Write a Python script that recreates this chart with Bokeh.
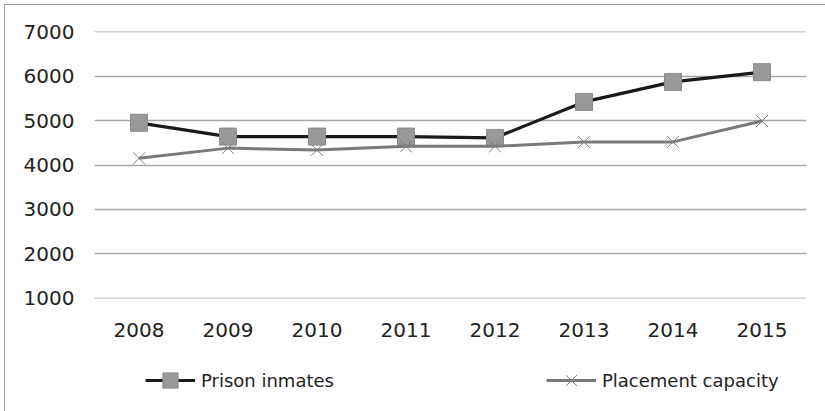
from bokeh.plotting import figure
from bokeh.layouts import column
from bokeh.models import FactorRange, Range1d, FixedTicker, Legend, LegendItem
from bokeh.embed import file_html
from bokeh.resources import INLINE

years = ["2008", "2009", "2010", "2011", "2012", "2013", "2014", "2015"]
prison_inmates = [4950, 4640, 4640, 4640, 4610, 5420, 5870, 6090]
placement_capacity = [4150, 4380, 4340, 4420, 4420, 4520, 4520, 4990]
y_ticks = [1000, 2000, 3000, 4000, 5000, 6000, 7000]

font = "DejaVu Sans"
ink = "#222222"
s1 = dict(line_color="#1a1a1a", line_width=3.2)
k1 = dict(marker="square", size=17, fill_color="#999999", line_color="#8a8a8a", line_width=1)
s2 = dict(line_color="#7a7a7a", line_width=3)
k2 = dict(marker="x", size=17, line_color="#7f7f7f", line_width=1)

p = figure(width=820, height=345, x_range=FactorRange(*years),
           y_range=Range1d(995, 7005), output_backend="svg",
           toolbar_location=None, min_border_left=89, min_border_right=19,
           min_border_top=26, min_border_bottom=52)
p.x_range.range_padding = 0
p.outline_line_color = None
p.border_fill_color = "white"

p.yaxis.ticker = FixedTicker(ticks=y_ticks)
p.yaxis.axis_line_color = None
p.yaxis.major_tick_line_color = None
p.yaxis.minor_tick_line_color = None
p.yaxis.major_label_text_font = font
p.yaxis.major_label_text_font_size = "20px"
p.yaxis.major_label_text_color = ink
p.yaxis.major_label_standoff = 14

p.xaxis.axis_line_color = None
p.xaxis.major_tick_line_color = None
p.xaxis.major_label_text_font = font
p.xaxis.major_label_text_font_size = "20px"
p.xaxis.major_label_text_color = ink
p.xaxis.major_label_standoff = 18

p.xgrid.grid_line_color = None
p.ygrid.grid_line_color = "#a6a6a6"
p.ygrid.grid_line_width = 1.5

p.line(years, prison_inmates, **s1)
p.scatter(years, prison_inmates, **k1)
p.line(years, placement_capacity, **s2)
p.scatter(years, placement_capacity, **k2)

# legend strip below the chart; its renderers carry the same data but lie
# outside this strip's ranges, so only their legend glyphs are seen
q = figure(width=820, height=61, x_range=FactorRange(*years),
           y_range=Range1d(0, 1), output_backend="svg",
           toolbar_location=None, min_border=0)
q.axis.visible = False
q.grid.visible = False
q.outline_line_color = None
q.border_fill_color = "white"
r1 = q.line(years, prison_inmates, **s1)
r1b = q.scatter(years, prison_inmates, **k1)
r2 = q.line(years, placement_capacity, **s2)
r2b = q.scatter(years, placement_capacity, **k2)

legend = Legend(items=[
    LegendItem(label="Prison inmates", renderers=[r1, r1b]),
    LegendItem(label="Placement capacity", renderers=[r2, r2b]),
], orientation="horizontal", location=(51, 12))
legend.glyph_width = 50
legend.glyph_height = 38
legend.label_standoff = 6
legend.spacing = 212
legend.padding = 0
legend.margin = 0
legend.border_line_color = None
legend.background_fill_alpha = 0
legend.label_text_font = font
legend.label_text_font_size = "18px"
legend.label_text_color = ink
q.add_layout(legend, "center")

page = column(p, q, spacing=0,
              styles={"margin-left": "4px", "margin-top": "4px",
                      "border-top": "1px solid #a0a0a0",
                      "border-left": "1px solid #a0a0a0"})

open("out.html", "w").write(file_html(page, INLINE))
